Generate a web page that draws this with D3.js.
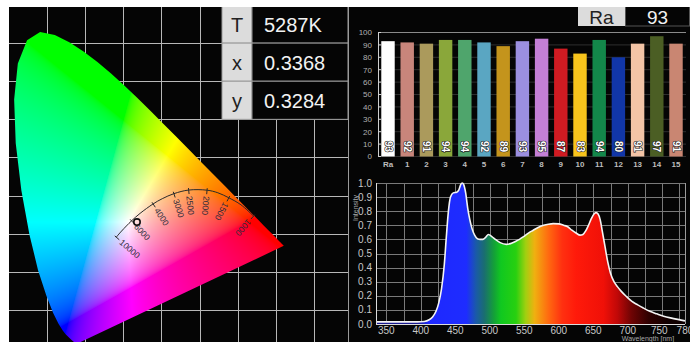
<!DOCTYPE html>
<html><head><meta charset="utf-8">
<script src="https://cdn.jsdelivr.net/npm/d3@7"></script>
<style>body{margin:0;background:#fff;}svg{display:block;font-family:"Liberation Sans",Arial,sans-serif;}</style>
</head><body>
<script>
// ---------- DATA ----------
const locusNm = [380,385,390,395,400,405,410,415,420,425,430,435,440,445,450,455,460,465,470,475,480,485,490,495,500,505,510,515,520,525,530,535,540,545,550,555,560,565,570,575,580,585,590,595,600,605,610,615,620,625,630,635,640,645,650,655,660,665,670,680,690,700];
const locusX = [0.1741,0.1740,0.1738,0.1736,0.1733,0.1730,0.1726,0.1721,0.1714,0.1703,0.1689,0.1669,0.1644,0.1611,0.1566,0.1510,0.1440,0.1355,0.1241,0.1096,0.0913,0.0687,0.0454,0.0235,0.0082,0.0039,0.0139,0.0389,0.0743,0.1142,0.1547,0.1929,0.2296,0.2658,0.3016,0.3373,0.3731,0.4087,0.4441,0.4788,0.5125,0.5448,0.5752,0.6029,0.6270,0.6482,0.6658,0.6801,0.6915,0.7006,0.7079,0.7140,0.7190,0.7230,0.7260,0.7283,0.7300,0.7311,0.7320,0.7334,0.7344,0.7347];
const locusY = [0.0050,0.0050,0.0049,0.0049,0.0048,0.0048,0.0048,0.0048,0.0051,0.0058,0.0069,0.0086,0.0109,0.0138,0.0177,0.0227,0.0297,0.0399,0.0578,0.0868,0.1327,0.2007,0.2950,0.4127,0.5384,0.6548,0.7502,0.8120,0.8338,0.8262,0.8059,0.7816,0.7543,0.7243,0.6923,0.6589,0.6245,0.5896,0.5547,0.5202,0.4866,0.4544,0.4242,0.3965,0.3725,0.3514,0.3340,0.3197,0.3083,0.2993,0.2920,0.2859,0.2809,0.2770,0.2740,0.2717,0.2700,0.2689,0.2680,0.2666,0.2656,0.2653];

const planckT = [10000,8000,6000,5000,4000,3500,3000,2500,2000,1750,1500,1250,1000];
const planckX = [0.2807,0.2952,0.3221,0.3451,0.3805,0.4053,0.4369,0.4769,0.5267,0.5559,0.5857,0.6185,0.6528];
const planckY = [0.2884,0.3048,0.3318,0.3516,0.3768,0.3907,0.4041,0.4137,0.4133,0.4065,0.3931,0.3745,0.3444];
const planckLabels = [10000,6000,4000,3000,2500,2000,1500,1000];

const measKeys = ["T","x","y"];
const measVals = ["5287K","0.3368","0.3284"];
const pointX = 0.3368, pointY = 0.3284;

const criNames = ["Ra","1","2","3","4","5","6","7","8","9","10","11","12","13","14","15"];
const criValues = [93,92,91,94,94,92,89,93,95,87,83,94,80,91,97,91];
const criColors = ["#ffffff","#c8857b","#ab9a5c","#8aa73a","#4fa56c","#5aa6c2","#c4941c","#9b8fe0","#c47fd6","#d01b22","#f8c41c","#13874a","#1136a8","#f3c4a6","#4b5e24","#c98672"];
const raLabel = "Ra", raValue = "93";
const criTicks = [0,10,20,30,40,50,60,70,80,90,100];

const specNm  = [335,360,380,395,405,412,417,422,426,430,434,437,440,443,447,452,455,458,460,462,465,468,471,474,478,482,486,490,494,498,503,508,515,524,530,537,543,549,556,563,570,578,585,592,600,607,613,619,625,631,635,639,643,647,651,654,657,660,663,667,671,675,680,685,690,698,706,713,722,732,742,752,765,783];
const specVal = [0.015,0.015,0.015,0.015,0.018,0.03,0.05,0.09,0.15,0.25,0.42,0.62,0.80,0.90,0.93,0.935,0.95,0.99,1.0,0.99,0.93,0.82,0.74,0.68,0.63,0.605,0.60,0.60,0.615,0.635,0.62,0.60,0.577,0.565,0.57,0.585,0.60,0.62,0.645,0.665,0.685,0.70,0.708,0.712,0.71,0.70,0.69,0.665,0.645,0.63,0.635,0.66,0.70,0.745,0.78,0.79,0.78,0.74,0.66,0.55,0.44,0.36,0.30,0.265,0.235,0.195,0.16,0.14,0.115,0.09,0.072,0.055,0.04,0.022];
const specStopNm  = [395,412,466,480,492,506,516,538,552,565,585,605,625,665,685,705,730,760];
const specStopCol = ["#1a1a90","#1e28ff","#1e2cff","#1a5aa8","#1a6e70","#14a038","#10c820","#28d010","#a0d010","#f0b010","#ff6a10","#ff3010","#ff1a0a","#f01008","#c00808","#700404","#300000","#100000"];
const specXTicks = [350,400,450,500,550,600,650,700,750,780];
const specYTicks = [0,0.1,0.2,0.3,0.4,0.5,0.6,0.7,0.8,0.9,1.0];
const specGridNm = d3.range(350,781,25);

// ---------- SVG ----------
const W = 694, H = 342;
const svg = d3.select("body").append("svg").attr("width",W).attr("height",H);
svg.append("rect").attr("x",9).attr("y",0).attr("width",681).attr("height",H).attr("fill","#050505");

// ---------- LEFT: CIE ----------
const cx = d3.scaleLinear().domain([0,1]).range([12.7,381.7]);
const cy = d3.scaleLinear().domain([0,1]).range([345.6,-30.4]);
const gx = d3.scaleLinear().domain([0,9]).range([9,352]);
const gy = d3.scaleLinear().domain([0,9]).range([5,348]);
const left = svg.append("g");
const defs = svg.append("defs");
defs.append("clipPath").attr("id","leftClip").append("rect").attr("x",9).attr("y",0).attr("width",339).attr("height",H);
left.attr("clip-path","url(#leftClip)");
const gridL = left.append("g").attr("stroke","#b8b8b8").attr("stroke-width",1);
d3.range(1,9).forEach(k=>{
  gridL.append("line").attr("x1",Math.round(gx(k))+0.5).attr("x2",Math.round(gx(k))+0.5).attr("y1",0).attr("y2",H);
  gridL.append("line").attr("y1",Math.round(gy(k))+0.5).attr("y2",Math.round(gy(k))+0.5).attr("x1",9).attr("x2",348);
});
svg.append("line").attr("x1",348.5).attr("x2",348.5).attr("y1",0).attr("y2",H).attr("stroke","#9a9a9a");

// color canvas
const cv = document.createElement("canvas"); cv.width=W; cv.height=H;
const ctx = cv.getContext("2d"); const img = ctx.createImageData(W,H);
const gam = v => v<=0.0031308 ? 12.92*v : 1.055*Math.pow(v,1/2.4)-0.055;
for(let py=20; py<H; py++){ for(let px=10; px<300; px++){
  const x = cx.invert(px+0.5), y = cy.invert(py+0.5);
  if(y<=0.001) continue;
  const X = x/y, Y = 1, Z = (1-x-y)/y;
  let r = 3.2406*X-1.5372*Y-0.4986*Z, g = -0.9689*X+1.8758*Y+0.0415*Z, b = 0.0557*X-0.2040*Y+1.0570*Z;
  r=Math.max(0,r); g=Math.max(0,g); b=Math.max(0,b);
  const m = Math.max(r,g,b)||1; r/=m; g/=m; b/=m;
  const i=(py*W+px)*4; img.data[i]=255*gam(r); img.data[i+1]=255*gam(g); img.data[i+2]=255*gam(b); img.data[i+3]=255;
}}
ctx.putImageData(img,0,0);
const locusPts = locusNm.map((n,i)=>[locusX[i],locusY[i]]);
const locusLine = d3.line().x(d=>cx(d[0])).y(d=>cy(d[1]));
defs.append("clipPath").attr("id","locusClip").append("path").attr("d",locusLine(locusPts)+"Z");
left.append("image").attr("href",cv.toDataURL()).attr("x",0).attr("y",0).attr("width",W).attr("height",H).attr("clip-path","url(#locusClip)");

// planckian locus
const plPts = planckT.map((t,i)=>[cx(planckX[i]),cy(planckY[i])]);
left.append("path").attr("d",d3.line().curve(d3.curveCatmullRom)(plPts)).attr("fill","none").attr("stroke","#2a2a2a").attr("stroke-width",1);
planckLabels.forEach(t=>{
  const i = planckT.indexOf(t);
  const a = plPts[Math.max(0,i-1)], b = plPts[Math.min(plPts.length-1,i+1)];
  let tx=b[0]-a[0], ty=b[1]-a[1]; const L=Math.hypot(tx,ty); tx/=L; ty/=L;
  let nx=-ty, ny=tx; if(ny<0){nx=-nx;ny=-ny;}
  const p = plPts[i];
  left.append("line").attr("x1",p[0]-nx*2).attr("y1",p[1]-ny*2).attr("x2",p[0]+nx*4).attr("y2",p[1]+ny*4).attr("stroke","#2a2a2a");
  const ang = Math.atan2(ny,nx)*180/Math.PI;
  left.append("text").attr("transform",`translate(${p[0]+nx*6},${p[1]+ny*6}) rotate(${ang})`)
    .attr("dy","0.35em").attr("font-size",8.5).attr("fill","#2a2a3a").text(t);
});
left.append("circle").attr("cx",cx(pointX)).attr("cy",cy(pointY)).attr("r",3.2).attr("fill","none").attr("stroke","#111").attr("stroke-width",1.6);

// table
const rowY = k => gy(k);
measKeys.forEach((k,i)=>{
  const y0 = rowY(i), y1 = rowY(i+1);
  svg.append("rect").attr("x",222).attr("y",y0).attr("width",30).attr("height",y1-y0).attr("fill","#dcdcdc").attr("stroke","#9a9a9a");
  svg.append("rect").attr("x",252).attr("y",y0).attr("width",96).attr("height",y1-y0).attr("fill","#050505").attr("stroke","#9a9a9a");
  svg.append("text").attr("x",237).attr("y",(y0+y1)/2+1).attr("dy","0.35em").attr("text-anchor","middle").attr("font-size",20).attr("fill","#222").text(k);
  svg.append("text").attr("x",264).attr("y",(y0+y1)/2+1).attr("dy","0.35em").attr("font-size",20).attr("fill","#f2f2f2").text(measVals[i]);
});

// ---------- RIGHT TOP: CRI bars ----------
const bx = d3.scaleBand().domain(criNames).range([378.4,685.6]).paddingInner(0.3).paddingOuter(0.15);
const by = d3.scaleLinear().domain([0,100]).range([156.5,32.5]);
const bars = svg.append("g");
criTicks.forEach(t=>{
  bars.append("line").attr("x1",378).attr("x2",686).attr("y1",by(t)).attr("y2",by(t)).attr("stroke",t===100?"#8a8a8a":"#2e2e2e");
});
bars.append("line").attr("x1",378.5).attr("x2",378.5).attr("y1",by(100)).attr("y2",by(0)).attr("stroke","#d0d0d0");
criTicks.forEach(t=>{
  bars.append("line").attr("x1",378).attr("x2",381).attr("y1",by(t)).attr("y2",by(t)).attr("stroke","#d0d0d0");
  bars.append("text").attr("x",372).attr("y",by(t)).attr("dy","0.35em").attr("text-anchor","end").attr("font-size",8).attr("fill","#b0b0b0").text(t);
});
criNames.forEach((n,i)=>{
  bars.append("rect").attr("x",bx(n)).attr("y",by(criValues[i])).attr("width",bx.bandwidth()).attr("height",by(0)-by(criValues[i])).attr("fill",criColors[i]);
  bars.append("text").attr("transform",`translate(${bx(n)+bx.bandwidth()/2},${by(8)}) rotate(90)`)
    .attr("text-anchor","middle").attr("dy","0.35em").attr("font-size",10).attr("font-weight","bold")
    .attr("fill","#fff").attr("stroke","#222").attr("stroke-width",1.2).attr("paint-order","stroke").text(criValues[i]);
  bars.append("text").attr("x",bx(n)+bx.bandwidth()/2).attr("y",166.5).attr("text-anchor","middle").attr("font-size",8).attr("font-weight","bold").attr("fill","#bdbdbd").text(n);
});
// Ra header
svg.append("rect").attr("x",578).attr("y",0).attr("width",47).attr("height",26).attr("fill","#dcdcdc");
svg.append("rect").attr("x",625.5).attr("y",0.5).attr("width",64).attr("height",25.5).attr("fill","#050505").attr("stroke","#555");
svg.append("text").attr("x",601.5).attr("y",17).attr("dy","0.35em").attr("text-anchor","middle").attr("font-size",19).attr("fill","#222").text(raLabel);
svg.append("text").attr("x",657.5).attr("y",17).attr("dy","0.35em").attr("text-anchor","middle").attr("font-size",19).attr("fill","#f2f2f2").text(raValue);

// ---------- RIGHT BOTTOM: spectrum ----------
const sx = d3.scaleLinear().domain([335,783]).range([376,685]);
const sy = d3.scaleLinear().domain([0,1]).range([324,183]);
const sp = svg.append("g");
specYTicks.forEach(t=>{
  sp.append("line").attr("x1",376).attr("x2",685).attr("y1",Math.round(sy(t))+0.5).attr("y2",Math.round(sy(t))+0.5).attr("stroke","#7a7a7a");
  sp.append("text").attr("x",372).attr("y",sy(t)).attr("dy","0.35em").attr("text-anchor","end").attr("font-size",10).attr("fill","#c8c8c8").text(t.toFixed(1));
});
specGridNm.forEach(n=>{
  sp.append("line").attr("x1",Math.round(sx(n))+0.5).attr("x2",Math.round(sx(n))+0.5).attr("y1",183).attr("y2",324).attr("stroke","#7a7a7a");
});
sp.append("line").attr("x1",685.5).attr("x2",685.5).attr("y1",183).attr("y2",324).attr("stroke","#9a9a9a");
const grad = defs.append("linearGradient").attr("id","specGrad").attr("gradientUnits","userSpaceOnUse")
  .attr("x1",sx(335)).attr("x2",sx(783)).attr("y1",0).attr("y2",0);
specStopNm.forEach((n,i)=>grad.append("stop").attr("offset",(n-335)/(783-335)).attr("stop-color",specStopCol[i]));
const specPts = specNm.map((n,i)=>[n,specVal[i]]);
sp.append("path").attr("d",d3.area().curve(d3.curveMonotoneX).x(d=>sx(d[0])).y0(sy(0)).y1(d=>sy(d[1]))(specPts)).attr("fill","url(#specGrad)");
sp.append("path").attr("d",d3.line().curve(d3.curveMonotoneX).x(d=>sx(d[0])).y(d=>sy(d[1]))(specPts)).attr("fill","none").attr("stroke","#f4f4f4").attr("stroke-width",1.6);
sp.append("line").attr("x1",376.5).attr("x2",376.5).attr("y1",183).attr("y2",324).attr("stroke","#dcdcdc");
sp.append("line").attr("x1",376).attr("x2",685).attr("y1",324.5).attr("y2",324.5).attr("stroke","#dcdcdc");
specXTicks.forEach(n=>{
  sp.append("text").attr("x",sx(n)+(n===750?-3:n===780?2:0)).attr("y",334).attr("text-anchor","middle").attr("font-size",10).attr("fill","#c8c8c8").text(n);
});
sp.append("text").attr("x",648).attr("y",341).attr("text-anchor","middle").attr("font-size",7).attr("fill","#a8a8a8").text("Wavelength [nm]");
sp.append("text").attr("transform","translate(358,208) rotate(-90)").attr("text-anchor","middle").attr("font-size",7).attr("fill","#a8a8a8").text("Intensity");

// top white strip and margins
svg.append("rect").attr("x",0).attr("y",0).attr("width",W).attr("height",7).attr("fill","#fff");
svg.append("rect").attr("x",690).attr("y",0).attr("width",4).attr("height",H).attr("fill","#fff");
</script>
</body></html>
